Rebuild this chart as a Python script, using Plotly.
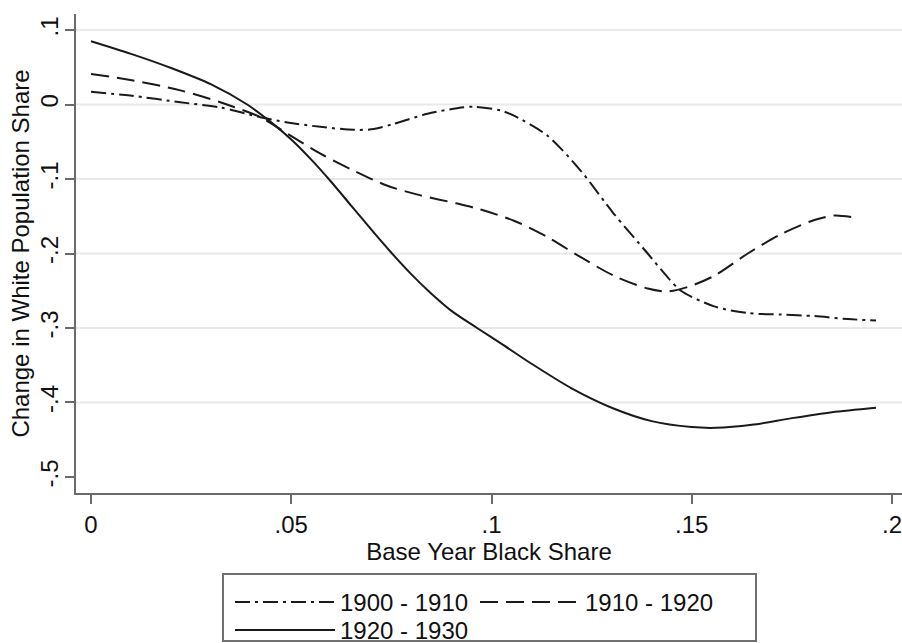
import plotly.graph_objects as go

# ---- data ----
x_1900 = [0, 0.0098, 0.0223, 0.0323, 0.0423, 0.049, 0.0573, 0.0657, 0.0706, 0.0756,
          0.084, 0.0914, 0.0956, 0.1023, 0.1056, 0.114, 0.1223, 0.1306, 0.139, 0.144,
          0.1473, 0.1556, 0.164, 0.1723, 0.1806, 0.189, 0.196]
y_1900 = [0.017, 0.012, 0.003, -0.004, -0.017, -0.024, -0.030, -0.034, -0.033, -0.026,
          -0.0125, -0.005, -0.003, -0.008, -0.015, -0.042, -0.089, -0.147, -0.200, -0.232,
          -0.250, -0.271, -0.280, -0.282, -0.284, -0.288, -0.290]

x_1910 = [0, 0.0098, 0.0223, 0.0323, 0.0423, 0.049, 0.0573, 0.0657, 0.074, 0.0823,
          0.0915, 0.0973, 0.1056, 0.114, 0.1223, 0.1306, 0.139, 0.144, 0.149, 0.1556,
          0.164, 0.1723, 0.1806, 0.1856, 0.1898]
y_1910 = [0.041, 0.033, 0.019, 0.003, -0.017, -0.039, -0.066, -0.089, -0.109, -0.122,
          -0.133, -0.141, -0.156, -0.178, -0.205, -0.230, -0.247, -0.251, -0.245, -0.230,
          -0.200, -0.174, -0.155, -0.149, -0.151]

x_1920 = [0, 0.01, 0.02, 0.03, 0.039, 0.045, 0.05, 0.055, 0.06, 0.065,
          0.07, 0.075, 0.08, 0.085, 0.09, 0.0964, 0.103, 0.11, 0.12, 0.13,
          0.14, 0.15, 0.156, 0.165, 0.175, 0.185, 0.196]
y_1920 = [0.085, 0.068, 0.049, 0.027, 0.0, -0.024, -0.047, -0.074, -0.104, -0.136,
          -0.168, -0.199, -0.228, -0.254, -0.277, -0.300, -0.323, -0.348, -0.381, -0.407,
          -0.425, -0.433, -0.434, -0.430, -0.421, -0.413, -0.407]

series_names = ["1900 - 1910", "1910 - 1920", "1920 - 1930"]

x_tickvals = [0, 0.05, 0.1, 0.15, 0.2]
x_ticktext = ["0", ".05", ".1", ".15", ".2"]
y_tickvals = [0.1, 0, -0.1, -0.2, -0.3, -0.4, -0.5]
y_ticktext = [".1", "0", "-.1", "-.2", "-.3", "-.4", "-.5"]
grid_vals = [0.1, 0, -0.1, -0.2, -0.3, -0.4]

x_title = "Base Year Black Share"
y_title = "Change in White Population Share"

# ---- styling ----
FONT = "Liberation Sans, Arial, Helvetica, sans-serif"
FS = 24
LINE_COL = "#1a1a1a"
AX_COL = "#6a6a6a"
W, H = 902, 643
ML, MR, MT, MB = 76, 0, 14, 150
PW, PH = W - ML - MR, H - MT - MB

fig = go.Figure()
fig.add_trace(go.Scatter(x=x_1900, y=y_1900, mode="lines", name=series_names[0],
                         line=dict(color=LINE_COL, width=2, dash="15px,5px,3px,5px", shape="spline", smoothing=0.8),
                         legend="legend"))
fig.add_trace(go.Scatter(x=x_1910, y=y_1910, mode="lines", name=series_names[1],
                         line=dict(color=LINE_COL, width=2, dash="18px,8px", shape="spline", smoothing=0.8),
                         legend="legend"))
fig.add_trace(go.Scatter(x=x_1920, y=y_1920, mode="lines", name=series_names[2],
                         line=dict(color=LINE_COL, width=2, shape="spline", smoothing=0.8),
                         legend="legend2"))

for v in grid_vals:
    fig.add_hline(y=v, line=dict(color="#e9e9e9", width=2), layer="below")

# legend frame around both legends
fig.add_shape(type="rect", xref="paper", yref="paper",
              x0=(223 - ML) / PW, x1=(756 - ML) / PW,
              y0=(MT + PH - 641) / PH, y1=(MT + PH - 574) / PH,
              line=dict(color="#707070", width=2), fillcolor="rgba(0,0,0,0)")

leg_common = dict(orientation="h", xanchor="left", yanchor="top",
                  xref="paper", yref="container",
                  bgcolor="rgba(0,0,0,0)", borderwidth=0,
                  font=dict(family=FONT, size=FS, color="#111111"),
                  itemwidth=100, entrywidth=130, entrywidthmode="pixels",
                  itemclick=False, itemdoubleclick=False)

fig.update_layout(
    width=W, height=H,
    margin=dict(l=ML, r=MR, t=MT, b=MB, autoexpand=False),
    paper_bgcolor="white", plot_bgcolor="white",
    font=dict(family=FONT, size=FS, color="#111111"),
    xaxis=dict(range=[-0.00375, 0.2025], tickvals=x_tickvals, ticktext=x_ticktext,
               showgrid=False, zeroline=False, showline=True, linecolor=AX_COL, linewidth=2,
               ticks="outside", ticklen=9, tickwidth=2, tickcolor=AX_COL,
               automargin=False, ticklabeloverflow="allow",
               title=dict(text=x_title, standoff=3, font=dict(size=FS))),
    yaxis=dict(range=[-0.5215, 0.1215], tickvals=y_tickvals, ticktext=y_ticktext,
               tickangle=-90, automargin=False, ticklabelstandoff=-3,
               showgrid=False, zeroline=False, showline=True, linecolor=AX_COL, linewidth=2,
               ticks="outside", ticklen=9, tickwidth=2, tickcolor=AX_COL,
               title=dict(text=y_title, standoff=0, font=dict(size=FS))),
    legend=dict(x=(230 - ML) / PW, y=1 - 580 / H, **leg_common),
    legend2=dict(x=(230 - ML) / PW, y=1 - 608 / H, **leg_common),
    showlegend=True,
)

fig.write_html("out.html",
               config={"displayModeBar": False},
               post_script="document.body.style.margin='0';document.body.style.padding='0';")
